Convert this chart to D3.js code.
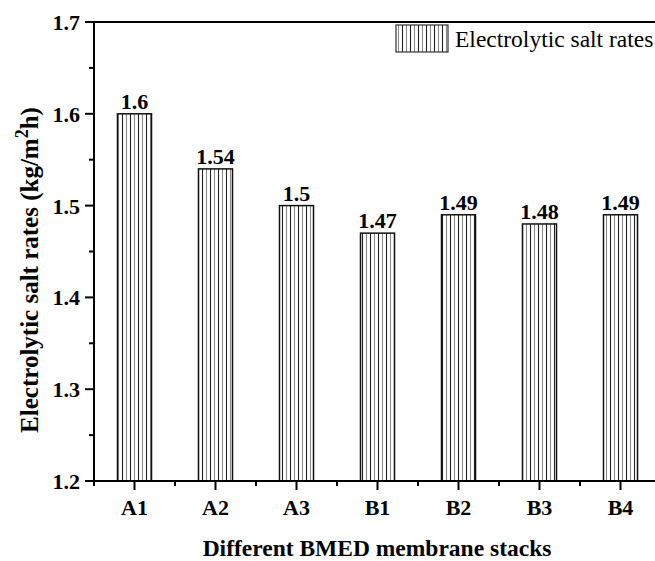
<!DOCTYPE html>
<html><head><meta charset="utf-8">
<script src="https://cdn.jsdelivr.net/npm/d3@7"></script>
<style>
html,body{margin:0;padding:0;background:#fff;}
svg text{font-family:'Liberation Serif','Times New Roman','DejaVu Serif',serif;}
</style></head>
<body>
<svg id="chart" width="655" height="561"></svg>
<script>
const categories = ["A1","A2","A3","B1","B2","B3","B4"];
const values = [1.6,1.54,1.5,1.47,1.49,1.48,1.49];
const valueLabels = ["1.6","1.54","1.5","1.47","1.49","1.48","1.49"];
const yTicks = [1.2,1.3,1.4,1.5,1.6,1.7];
const yMinorTicks = [1.25,1.35,1.45,1.55,1.65];
const seriesName = "Electrolytic salt rates";

const svg = d3.select("#chart");
const mLeft = 94, mTop = 22, mBottom = 481, mRight = 661;

const x = d3.scaleBand().domain(categories).range([mLeft, mRight]).paddingInner(0.58).paddingOuter(0.29);
const y = d3.scaleLinear().domain([1.2, 1.7]).range([mBottom, mTop]);

const defs = svg.append("defs");
const pat = defs.append("pattern").attr("id","hatch").attr("patternUnits","userSpaceOnUse")
  .attr("width",8).attr("height",10);
pat.append("rect").attr("width",8).attr("height",10).attr("fill","#fff");
pat.append("line").attr("x1",2.5).attr("x2",2.5).attr("y1",0).attr("y2",10).attr("stroke","#222").attr("stroke-width",1.1);
pat.append("line").attr("x1",6.5).attr("x2",6.5).attr("y1",0).attr("y2",10).attr("stroke","#8a8a8a").attr("stroke-width",1.1);

// bars
svg.selectAll("rect.bar").data(categories).enter().append("rect")
  .attr("class","bar")
  .attr("x", d => x(d))
  .attr("y", (d,i) => y(values[i]))
  .attr("width", x.bandwidth())
  .attr("height", (d,i) => mBottom - y(values[i]))
  .attr("fill","url(#hatch)")
  .attr("stroke","#111").attr("stroke-width",1.5);

// value labels
svg.selectAll("text.val").data(categories).enter().append("text")
  .attr("x", d => x(d) + x.bandwidth()/2)
  .attr("y", (d,i) => y(values[i]) - 5)
  .attr("text-anchor","middle")
  .attr("font-size",22).attr("font-weight","bold")
  .text((d,i) => valueLabels[i]);

// frame
svg.append("rect").attr("x",mLeft).attr("y",mTop).attr("width",mRight-mLeft).attr("height",mBottom-mTop)
  .attr("fill","none").attr("stroke","#000").attr("stroke-width",2);

// y axis ticks
const yAxis = svg.append("g");
yTicks.forEach(t => {
  yAxis.append("line").attr("x1",mLeft-9).attr("x2",mLeft).attr("y1",y(t)).attr("y2",y(t)).attr("stroke","#000").attr("stroke-width",2);
  yAxis.append("text").attr("x",mLeft-14).attr("y",y(t)+8).attr("text-anchor","end")
    .attr("font-size",22).attr("font-weight","bold").text(d3.format(".1f")(t));
});
yMinorTicks.forEach(t => {
  yAxis.append("line").attr("x1",mLeft-5).attr("x2",mLeft).attr("y1",y(t)).attr("y2",y(t)).attr("stroke","#000").attr("stroke-width",2);
});

// x axis ticks
const xAxis = svg.append("g");
categories.forEach((c,i) => {
  const cx = x(c) + x.bandwidth()/2;
  xAxis.append("line").attr("x1",cx).attr("x2",cx).attr("y1",mBottom).attr("y2",mBottom+9).attr("stroke","#000").attr("stroke-width",2);
  xAxis.append("text").attr("x",cx).attr("y",mBottom+34).attr("text-anchor","middle")
    .attr("font-size",22).attr("font-weight","bold").text(c);
});
for (let i = 0; i <= categories.length; i++) {
  const bx = mLeft + i * x.step();
  xAxis.append("line").attr("x1",bx).attr("x2",bx).attr("y1",mBottom).attr("y2",mBottom+5).attr("stroke","#000").attr("stroke-width",2);
}

// axis titles
svg.append("text").attr("x",377).attr("y",556).attr("text-anchor","middle")
  .attr("font-size",23.5).attr("font-weight","bold").text("Different BMED membrane stacks");

const yt = svg.append("text").attr("transform","translate(38,270) rotate(-90)")
  .attr("text-anchor","middle").attr("font-size",25).attr("font-weight","bold");
yt.append("tspan").text("Electrolytic salt rates (kg/m");
yt.append("tspan").attr("dy",-10).attr("font-size",18).text("2");
yt.append("tspan").attr("dy",10).text("h)");

// legend
svg.append("rect").attr("x",396).attr("y",25).attr("width",52).attr("height",27)
  .attr("fill","url(#hatch)").attr("stroke","#333").attr("stroke-width",1.2);
svg.append("text").attr("x",455).attr("y",47).attr("font-size",23.5).text(seriesName);
</script>
</body></html>
